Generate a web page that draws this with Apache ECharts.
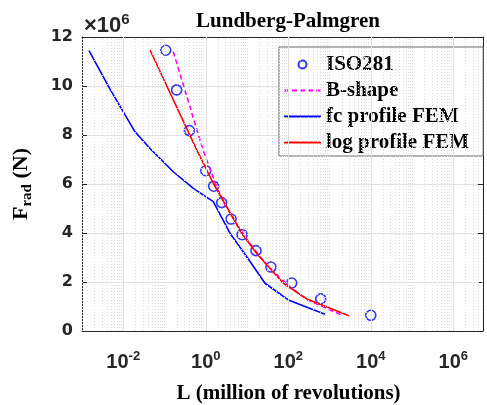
<!DOCTYPE html>
<html>
<head>
<meta charset="utf-8">
<script src="https://cdn.jsdelivr.net/npm/echarts@6/dist/echarts.min.js"></script>
<style>
html, body { margin: 0; padding: 0; background: #ffffff; }
#chart { width: 487px; height: 405px; }
</style>
</head>
<body>
<div id="chart"></div>
<script>
// Bearing life L (million of revolutions) against radial force F (x10^6 N)
const isoL = [0.107, 0.197, 0.40, 1.0, 1.55, 2.43, 4.1, 7.6, 16.5, 38, 121, 611, 10000];
const isoF = [11.46, 9.84, 8.18, 6.54, 5.91, 5.24, 4.57, 3.93, 3.28, 2.61, 1.96, 1.31, 0.64];

const bShapeL = [0.163, 0.857, 1.84, 2.82, 4.92, 8.95, 20.7, 40, 110, 280, 1028, 1977];
const bShapeF = [11.40, 7.39, 5.89, 5.21, 4.53, 3.85, 3.03, 2.49, 1.80, 1.29, 0.86, 0.65];

const fcL = [0.00148, 0.00477, 0.0193, 0.0445, 0.163, 0.499, 1.52, 3.87, 9.84, 27.3, 100, 778];
const fcF = [11.44, 9.87, 8.13, 7.45, 6.50, 5.82, 5.28, 3.99, 3.03, 1.95, 1.27, 0.68];

const logPL = [0.0445, 0.604, 1.52, 7.44, 17.5, 76, 280, 2970];
const logPF = [11.47, 7.39, 6.03, 3.99, 3.14, 1.95, 1.31, 0.62];

// Axis ranges and tick labels (x is stored as decades, log10 L)
const xDecadeMin = -3;
const xDecadeMax = 6.72;
const xLabelExponents = [-2, 0, 2, 4, 6];
const yTicks = [0, 2, 4, 6, 8, 10, 12];

const serif = '"Liberation Serif", "Times New Roman", serif';
const sans = '"Liberation Sans", Arial, sans-serif';
const ink = '#262626';

const toXY = (L, F) => L.map((v, i) => [Math.log10(v), F[i]]);

// Vertical grid: solid lines on labelled decades, dotted lines on the log sub-divisions
const majorGrid = [];
const minorGrid = [];
for (let d = Math.floor(xDecadeMin); d <= Math.ceil(xDecadeMax); d++) {
  for (let k = 1; k <= 9; k++) {
    const x = d + Math.log10(k);
    if (x < xDecadeMin || x > xDecadeMax) continue;
    if (k === 1 && xLabelExponents.includes(d)) majorGrid.push({ xAxis: x });
    else minorGrid.push({ xAxis: x });
  }
}

const xAxisBase = {
  type: 'value',
  min: xDecadeMin,
  max: xDecadeMax,
  splitNumber: 5,
  axisLine: { show: true, onZero: false, lineStyle: { color: ink, width: 1 } },
  axisTick: { show: true, inside: true, length: 5, lineStyle: { color: ink } },
  splitLine: { show: false }
};

const chart = echarts.init(document.getElementById('chart'), null, { renderer: 'canvas' });

const option = {
  animation: false,
  backgroundColor: '#ffffff',
  title: [
    {
      text: 'Lundberg-Palmgren',
      left: 288,
      top: 11,
      textAlign: 'center',
      padding: 0,
      textStyle: { fontFamily: serif, fontWeight: 'bold', fontSize: 21, color: '#000000' }
    },
    {
      text: '{a|\u00d710}{p|6}',
      left: 84,
      top: 12,
      padding: 0,
      textStyle: {
        rich: {
          a: { fontFamily: sans, fontSize: 22, color: ink },
          p: { fontFamily: sans, fontSize: 15, color: ink, padding: [0, 0, 13, 0] }
        }
      }
    }
  ],
  grid: { left: 82, right: 4, top: 37, bottom: 74, containLabel: false, outerBoundsMode: 'none' },
  legend: {
    orient: 'vertical',
    left: 279,
    top: 47,
    padding: [7, 14, 3, 4],
    itemGap: 5,
    itemWidth: 37,
    itemHeight: 8,
    backgroundColor: '#ffffff',
    borderColor: '#666666',
    borderWidth: 1,
    textStyle: { fontFamily: serif, fontWeight: 'bold', fontSize: 21, lineHeight: 21, color: '#000000' },
    data: [
      { name: 'ISO281' },
      { name: 'B-shape', itemStyle: { opacity: 0 } },
      { name: 'fc profile FEM', itemStyle: { opacity: 0 } },
      { name: 'log profile FEM', itemStyle: { opacity: 0 } }
    ]
  },
  xAxis: [
    Object.assign({}, xAxisBase, {
      name: 'L (million of revolutions)',
      nameLocation: 'middle',
      nameGap: 52,
      nameTextStyle: { fontFamily: serif, fontWeight: 'bold', fontSize: 21, color: '#000000', padding: [0, 0, 0, 12] },
      axisLabel: {
        margin: 19,
        color: ink,
        formatter: v => {
          const e = Math.round(v);
          return (Math.abs(v - e) < 1e-6 && xLabelExponents.includes(e)) ? '{b|10}{s|' + e + '}' : '';
        },
        rich: {
          b: { fontFamily: sans, fontWeight: 'bold', fontSize: 20, color: ink },
          s: { fontFamily: sans, fontWeight: 'bold', fontSize: 13, color: ink, padding: [0, 0, 12, 0] }
        }
      }
    }),
    Object.assign({}, xAxisBase, {
      position: 'top',
      axisLabel: { show: false }
    })
  ],
  yAxis: [
    {
      type: 'value',
      min: yTicks[0],
      max: yTicks[yTicks.length - 1],
      interval: 2,
      name: '{m|F}{s|rad}{m| (N)}',
      nameLocation: 'middle',
      nameRotate: 90,
      nameGap: 47,
      nameTextStyle: {
        rich: {
          m: { fontFamily: serif, fontWeight: 'bold', fontSize: 22, color: '#000000' },
          s: { fontFamily: serif, fontWeight: 'bold', fontSize: 15, color: '#000000', padding: [12, 0, 0, 0] }
        }
      },
      axisLine: { show: true, onZero: false, lineStyle: { color: ink, width: 1 } },
      axisTick: { show: true, inside: true, length: 5, lineStyle: { color: ink } },
      splitLine: { show: true, lineStyle: { color: '#e0e0e0', width: 1 } },
      axisLabel: {
        margin: 9,
        color: ink,
        fontFamily: '"DejaVu Sans", sans-serif',
        fontWeight: 'bold',
        fontSize: 16
      }
    },
    {
      type: 'value',
      position: 'right',
      min: yTicks[0],
      max: yTicks[yTicks.length - 1],
      interval: 2,
      axisLine: { show: true, onZero: false, lineStyle: { color: ink, width: 1 } },
      axisTick: { show: true, inside: true, length: 5, lineStyle: { color: ink } },
      axisLabel: { show: false },
      splitLine: { show: false }
    }
  ],
  series: [
    {
      name: 'grid',
      type: 'line',
      data: [],
      silent: true,
      legendHoverLink: false,
      markLine: {
        silent: true,
        symbol: ['none', 'none'],
        label: { show: false },
        animation: false,
        data: majorGrid.map(d => Object.assign({ lineStyle: { color: '#e0e0e0', width: 1, type: 'solid' } }, d))
          .concat(minorGrid.map(d => Object.assign({ lineStyle: { color: '#dcdcdc', width: 1, type: [1, 2] } }, d)))
      },
      z: 0
    },
    {
      name: 'ISO281',
      type: 'scatter',
      data: toXY(isoL, isoF),
      symbol: 'circle',
      symbolSize: 10,
      itemStyle: { color: 'rgba(0,0,0,0)', borderColor: '#0000ff', borderWidth: 1.6 },
      z: 3
    },
    {
      name: 'B-shape',
      type: 'line',
      data: toXY(bShapeL, bShapeF),
      showSymbol: false,
      symbol: 'none',
      lineStyle: { color: '#ff00ff', width: 1.6, type: [5, 3] },
      itemStyle: { color: '#ff00ff' },
      z: 4
    },
    {
      name: 'fc profile FEM',
      type: 'line',
      data: toXY(fcL, fcF),
      showSymbol: false,
      symbol: 'none',
      lineStyle: { color: '#0000ff', width: 1.6 },
      itemStyle: { color: '#0000ff' },
      z: 4
    },
    {
      name: 'log profile FEM',
      type: 'line',
      data: toXY(logPL, logPF),
      showSymbol: false,
      symbol: 'none',
      lineStyle: { color: '#ff0000', width: 1.6 },
      itemStyle: { color: '#ff0000' },
      z: 4
    }
  ]
};

chart.setOption(option);
</script>
</body>
</html>
